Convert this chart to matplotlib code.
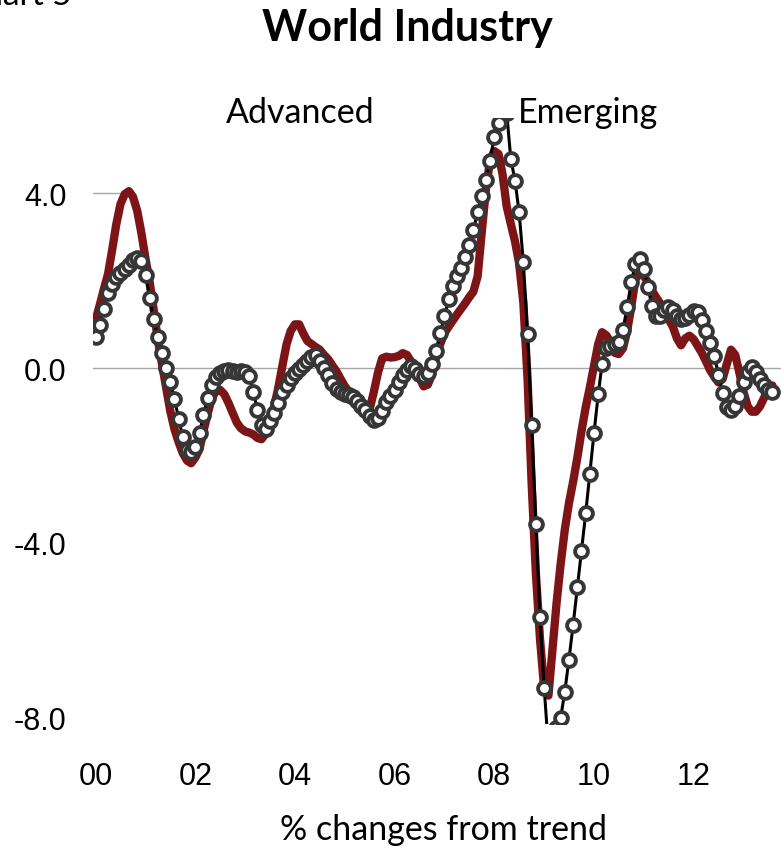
import matplotlib
matplotlib.use("Agg")
import matplotlib.pyplot as plt
import matplotlib.dates as mdates
import pandas as pd

plt.rcParams["font.family"] = ["Liberation Sans", "DejaVu Sans"]

# monthly readings, Jan 2000 onwards (% deviation from trend)
months = pd.date_range("2000-01-01", periods=164, freq="MS")

advanced = [
    1.10, 1.45, 1.80, 2.15, 2.70, 3.30, 3.75, 3.98, 4.05, 3.92, 3.60, 3.10,
    2.50, 1.95, 1.35, 0.65, 0.10, -0.45, -0.98, -1.40, -1.70, -1.95, -2.12, -2.18,
    -2.05, -1.85, -1.45, -1.05, -0.70, -0.52, -0.50, -0.60, -0.80, -1.02, -1.25, -1.38,
    -1.45, -1.48, -1.52, -1.60, -1.63, -1.50, -1.20, -0.90, -0.45, 0.05, 0.55, 0.85,
    1.00, 1.00, 0.80, 0.62, 0.55, 0.48, 0.42, 0.30, 0.20, 0.06, -0.08, -0.25,
    -0.42, -0.55, -0.65, -0.75, -0.87, -0.95, -0.95, -0.55, -0.10, 0.22, 0.26, 0.24,
    0.25, 0.28, 0.34, 0.30, 0.15, 0.00, -0.22, -0.42, -0.38, -0.15, 0.25, 0.55,
    0.80, 0.95, 1.08, 1.22, 1.35, 1.48, 1.62, 1.75, 2.10, 3.10, 4.10, 4.75,
    4.97, 4.90, 4.45, 3.70, 3.30, 2.90, 2.40, 1.50, -0.25, -2.65, -4.70, -6.20,
    -7.35, -7.50, -6.50, -5.40, -4.50, -3.70, -3.10, -2.60, -2.05, -1.45, -0.90, -0.45,
    0.05, 0.55, 0.82, 0.75, 0.60, 0.35, 0.32, 0.45, 0.85, 1.40, 2.05, 2.15,
    2.12, 1.95, 1.78, 1.62, 1.48, 1.30, 1.12, 0.95, 0.68, 0.52, 0.68, 0.74,
    0.66, 0.50, 0.35, 0.15, -0.05, -0.20, -0.33, -0.25, 0.10, 0.42, 0.30, -0.10,
    -0.55, -0.88, -1.00, -1.00, -0.88, -0.68, -0.52, -0.40,
]

emerging = [
    0.70, 0.98, 1.36, 1.72, 1.93, 2.08, 2.17, 2.27, 2.37, 2.48, 2.53, 2.45,
    2.13, 1.60, 1.12, 0.70, 0.34, -0.01, -0.32, -0.70, -1.17, -1.59, -1.87, -1.92,
    -1.80, -1.48, -1.08, -0.68, -0.39, -0.21, -0.12, -0.06, -0.04, -0.06, -0.08, -0.07,
    -0.08, -0.18, -0.55, -0.95, -1.30, -1.40, -1.22, -1.02, -0.80, -0.56, -0.38, -0.23,
    -0.11, -0.02, 0.06, 0.15, 0.25, 0.30, 0.17, 0.00, -0.17, -0.35, -0.47, -0.56,
    -0.60, -0.61, -0.66, -0.76, -0.86, -0.97, -1.10, -1.20, -1.15, -0.98, -0.78, -0.63,
    -0.50, -0.33, -0.17, -0.05, 0.05, -0.02, -0.14, -0.18, -0.12, 0.10, 0.38, 0.80,
    1.18, 1.58, 1.88, 2.10, 2.30, 2.55, 2.82, 3.15, 3.58, 3.95, 4.30, 4.75,
    5.30, 5.60, 5.90, 5.85, 4.79, 4.29, 3.57, 2.42, 0.78, -1.31, -3.57, -5.69,
    -7.33, -8.70, -8.90, -8.25, -8.02, -7.41, -6.68, -5.88, -5.02, -4.18, -3.33, -2.43,
    -1.49, -0.60, 0.09, 0.47, 0.51, 0.55, 0.59, 0.88, 1.39, 1.98, 2.38, 2.50,
    2.27, 1.85, 1.42, 1.18, 1.18, 1.32, 1.39, 1.33, 1.20, 1.13, 1.14, 1.22,
    1.30, 1.28, 1.10, 0.84, 0.58, 0.27, -0.15, -0.58, -0.90, -0.95, -0.86, -0.63,
    -0.33, -0.08, 0.02, -0.08, -0.24, -0.38, -0.50, -0.55,
]

yticks = [-8.0, -4.0, 0.0, 4.0]
year_ticks = pd.date_range("2000-01-01", "2012-01-01", freq="2YS")

red = "#7d1416"
ring = "#363636"

fig = plt.figure(figsize=(7.81, 8.54), dpi=100)
ax = fig.add_axes([0.1191, 0.1516, 0.8946, 0.7088])

ax.plot(months, advanced, color=red, lw=6.0, solid_joinstyle="round",
        solid_capstyle="round", zorder=2)
ax.plot(months, emerging, color="black", lw=2.2, marker="o", ms=9.2,
        mfc="white", mec=ring, mew=2.8, zorder=3)

# zero line and the short stub at 4.0
ax.axhline(0, color="#a6a6a6", lw=1.0, zorder=1)
ax.axhline(4.0, xmin=0, xmax=0.045, color="#a6a6a6", lw=1.0, zorder=1)

ax.set_ylim(-8.14, 5.72)
ax.set_xlim(pd.Timestamp("1999-12-13"), pd.Timestamp("2013-12-20"))
ax.set_yticks(yticks)
ax.set_yticklabels(["%.1f" % v for v in yticks])
ax.set_xticks(year_ticks)
ax.xaxis.set_major_formatter(mdates.DateFormatter("%y"))

for s in ax.spines.values():
    s.set_visible(False)
ax.tick_params(axis="both", length=0, labelsize=22)
ax.tick_params(axis="y", pad=19)
ax.tick_params(axis="x", pad=27)

fig.text(72 / 781, 1 - 5 / 854, "Chart 5", ha="right", va="baseline",
         fontsize=24, family="Lato")
fig.text(407 / 781, 1 - 28 / 854, "World Industry", ha="center", va="center",
         fontsize=31, fontweight="bold", family="Lato")
fig.text(300 / 781, 1 - 113 / 854, "Advanced", ha="center", va="center",
         fontsize=24.5, family="Lato")
fig.text(588 / 781, 1 - 113 / 854, "Emerging", ha="center", va="center",
         fontsize=24.5, family="Lato")
fig.text(443 / 781, 1 - 830 / 854, "% changes from trend", ha="center",
         va="center", fontsize=24.5, family="Lato")

fig.savefig("out.png", dpi=100)
